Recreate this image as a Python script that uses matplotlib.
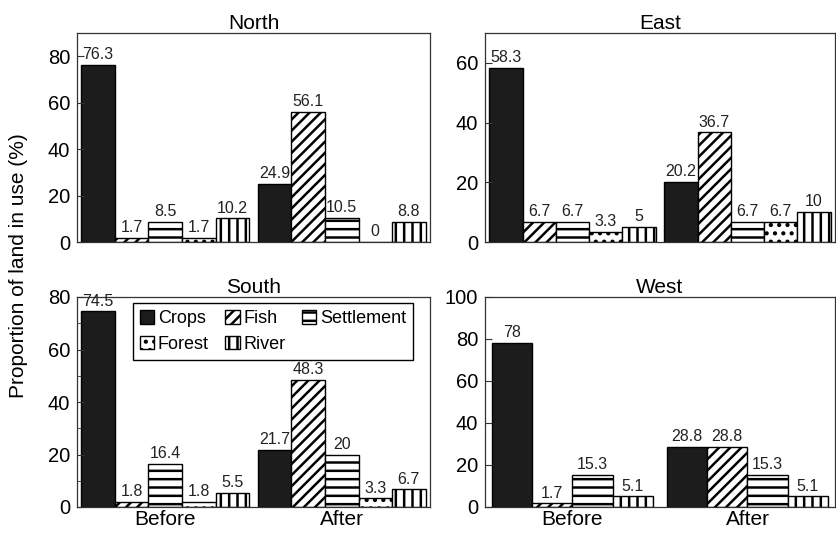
import numpy as np
import matplotlib
matplotlib.use("Agg")
import matplotlib.pyplot as plt
from matplotlib.patches import Patch

plt.rcParams['font.family'] = ['Liberation Sans', 'DejaVu Sans']
plt.rcParams['hatch.linewidth'] = 1.8

groups = ['Before', 'After']
categories = ['Crops', 'Fish', 'Settlement', 'Forest', 'River']

# values per region: rows = Before/After, cols = categories
north = [[76.3, 1.7, 8.5, 1.7, 10.2],
         [24.9, 56.1, 10.5, 0, 8.8]]
east = [[58.3, 6.7, 6.7, 3.3, 5],
        [20.2, 36.7, 6.7, 6.7, 10]]
south = [[74.5, 1.8, 16.4, 1.8, 5.5],
         [21.7, 48.3, 20, 3.3, 6.7]]
# West has no Forest bar
west_categories = ['Crops', 'Fish', 'Settlement', 'River']
west = [[78, 1.7, 15.3, 5.1],
        [28.8, 28.8, 15.3, 5.1]]

face = {'Crops': '#1c1c1c', 'Fish': 'white', 'Settlement': 'white',
        'Forest': 'white', 'River': 'white'}
hatch = {'Crops': None, 'Fish': '///', 'Settlement': '--',
         'Forest': '..', 'River': '||'}

W, H = 837, 536
fig = plt.figure(figsize=(W / 100, H / 100), dpi=100)


def px_axes(left, top, right, bottom):
    return fig.add_axes([left / W, 1 - bottom / H, (right - left) / W, (bottom - top) / H])


def draw(ax, title, data, cats, width, ymax, bottom_row, minor=False):
    n = len(cats)
    x = np.arange(len(groups))
    for j, c in enumerate(cats):
        vals = [data[g][j] for g in range(len(groups))]
        pos = x + (j - (n - 1) / 2) * width
        bars = ax.bar(pos, vals, width, color=face[c], edgecolor='black',
                      hatch=hatch[c], linewidth=1.0)
        for b, v in zip(bars, vals):
            ax.annotate('{:g}'.format(v), (b.get_x() + b.get_width() / 2, v),
                        xytext=(0, 2), textcoords='offset points',
                        ha='center', va='bottom', fontsize=11.5, color='#222222')
    ax.set_xlim(-0.5, 1.5)
    ax.set_ylim(0, ymax)
    ax.set_yticks(np.arange(0, ymax + 1, 20))
    if minor:
        ax.set_yticks(np.arange(10, ymax, 20), minor=True)
    ax.tick_params(axis='y', direction='in', labelsize=14.5, length=5, pad=5,
                   color='#333333')
    ax.tick_params(axis='y', which='minor', direction='in', length=3, color='#333333')
    ax.set_xticks(x)
    if bottom_row:
        ax.set_xticklabels(groups, fontsize=15)
    else:
        ax.set_xticklabels([])
    ax.tick_params(axis='x', length=0, pad=2)
    for s in ax.spines.values():
        s.set_linewidth(0.9)
        s.set_color('#333333')
    ax.set_title(title, fontsize=15, pad=3)


ax_n = px_axes(77, 33, 430, 242)
ax_e = px_axes(485, 33, 835, 242)
ax_s = px_axes(77, 297, 430, 507)
ax_w = px_axes(485, 297, 835, 507)

draw(ax_n, 'North', north, categories, 0.19, 90, False)
draw(ax_e, 'East', east, categories, 0.19, 70, False)
draw(ax_s, 'South', south, categories, 0.19, 80, True, minor=True)
draw(ax_w, 'West', west, west_categories, 0.23, 100, True)

# legend order fills columns: Crops/Forest, Fish/River, Settlement
order = ['Crops', 'Forest', 'Fish', 'River', 'Settlement']
handles = [Patch(facecolor=face[c], edgecolor='black', hatch=hatch[c], label=c)
           for c in order]
ax_s.legend(handles=handles, ncol=3, loc='upper right',
            bbox_to_anchor=(0.952, 0.971), borderaxespad=0, fontsize=13,
            handlelength=0.8, handleheight=0.8, handletextpad=0.2,
            columnspacing=0.9, labelspacing=0.45, borderpad=0.4,
            fancybox=False, framealpha=1, edgecolor='black')

fig.text(0.022, 0.505, 'Proportion of land in use (%)', rotation=90,
         ha='center', va='center', fontsize=15)

fig.savefig('out.png', dpi=100)
